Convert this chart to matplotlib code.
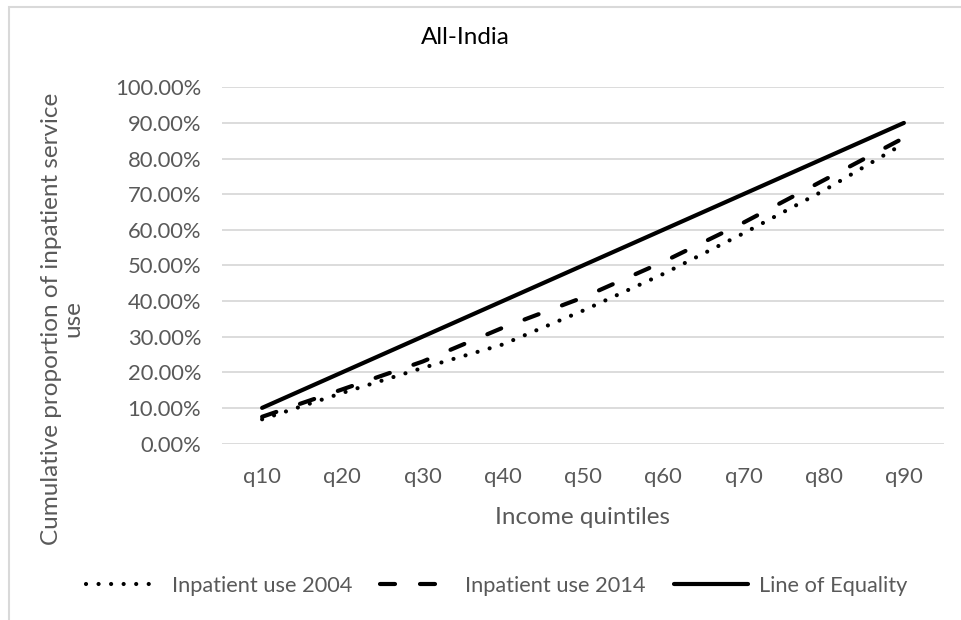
import matplotlib
matplotlib.use('Agg')
import matplotlib.pyplot as plt
from matplotlib.patches import Rectangle

plt.rcParams['font.family'] = ['Lato', 'DejaVu Sans']

# Data
quintiles = ['q10', 'q20', 'q30', 'q40', 'q50', 'q60', 'q70', 'q80', 'q90']
use_2004 = [6.8, 14.2, 21.2, 27.8, 37.3, 47.6, 59.0, 71.0, 84.2]
use_2014 = [7.5, 15.2, 23.0, 32.5, 41.0, 51.0, 62.0, 73.9, 85.8]
equality = [10, 20, 30, 40, 50, 60, 70, 80, 90]
y_ticks = [0, 10, 20, 30, 40, 50, 60, 70, 80, 90, 100]

grey = '#595959'
W, H = 962, 620

fig = plt.figure(figsize=(W / 100, H / 100), dpi=100)

# light outer frame of the chart area (partly cut off in the reference)
fig.patches.append(Rectangle((9 / W, -0.1), 1.2, 1 - 7 / H + 0.1,
                             transform=fig.transFigure, fill=False,
                             edgecolor='#d9d9d9', linewidth=1.5))

ax = fig.add_axes([222 / W, 1 - 443.5 / H, (944 - 222) / W, (443.5 - 87.3) / H])

x = list(range(len(quintiles)))
ax.plot(x, use_2004, color='black', linewidth=3, linestyle=(0, (0.01, 3)),
        dash_capstyle='round', label='Inpatient use 2004')
ax.plot(x, use_2014, color='black', linewidth=3, linestyle=(0, (3.6, 6)),
        dash_capstyle='round', label='Inpatient use 2014')
ax.plot(x, equality, color='black', linewidth=3, solid_capstyle='round',
        label='Line of Equality')

ax.set_xlim(-0.5, len(quintiles) - 0.5)
ax.set_ylim(0, 100)
ax.set_yticks(y_ticks)
ax.set_yticklabels(['%.2f%%' % v for v in y_ticks])
ax.set_xticks(x)
ax.set_xticklabels(quintiles)
ax.grid(axis='y', color='#d9d9d9', linewidth=1.3)
ax.set_axisbelow(True)
for s in ax.spines.values():
    s.set_visible(False)
ax.tick_params(length=0, labelsize=15.8, labelcolor=grey)
ax.tick_params(axis='y', pad=15)
ax.tick_params(axis='x', pad=17)

fig.text(465 / W, 1 - 37 / H, 'All-India', ha='center', va='center',
         fontsize=17.5, color='black')
fig.text(583 / W, 1 - 518 / H, 'Income quintiles', ha='center', va='center',
         fontsize=17.5, color=grey)
fig.text(62 / W, 1 - 319 / H, 'Cumulative proportion of inpatient service\nuse',
         ha='center', va='center', rotation=90, fontsize=17.5, color=grey,
         linespacing=1.05)

leg = fig.legend(loc='center', bbox_to_anchor=(497 / W, 1 - 586 / H), ncol=3,
                 frameon=False, fontsize=15.7, handlelength=3.4,
                 handletextpad=0.5, columnspacing=1.3)
for t in leg.get_texts():
    t.set_color(grey)

fig.savefig('out.png', dpi=100)
